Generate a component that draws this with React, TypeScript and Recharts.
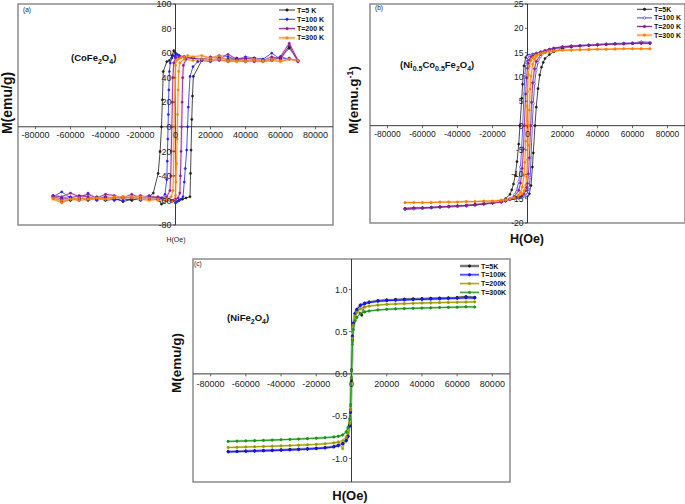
import React from "react";
import { LineChart, Line, XAxis, YAxis, ReferenceLine, ReferenceArea } from "recharts";

type Pt = [number, number];

const H_DOMAIN: [number, number] = [-90000, 90000];
const H_TICKS = [-80000, -60000, -40000, -20000, 0, 20000, 40000, 60000, 80000];
const CO_TICKS = [-80, -60, -40, -20, 0, 20, 40, 60, 80, 100];
const NCO_TICKS = [-20, -15, -10, -5, 0, 5, 10, 15, 20, 25];
const NI_TICKS = [-1, -0.5, 0, 0.5, 1];

// (a) CoFe2O4 — each loop: descending branch (+70 kOe -> -70 kOe), then ascending branch
const CO_5K: Pt[] = [
  [70000, 54], [65000, 65], [60000, 57], [55000, 54], [50000, 55], [45000, 56], [40000, 55], [35000, 56], [30000, 55], [25000, 56], [20000, 54], [15000, 55], [10000, 56], [5000, 57], [2000, 58], [0, 60], [-1000, 62], [-2000, 58], [-3500, 54], [-5000, 53], [-7000, 45], [-7500, 22], [-8000, 0], [-8800, -20], [-9900, -38], [-12700, -54], [-15000, -57], [-20000, -58], [-25000, -59], [-30000, -61], [-35000, -58], [-40000, -59], [-45000, -57], [-50000, -59], [-55000, -58], [-60000, -59], [-65000, -61], [-70000, -58],
  [-70000, -57], [-65000, -59], [-60000, -60], [-55000, -58], [-50000, -60], [-45000, -58], [-40000, -60], [-35000, -59], [-30000, -58], [-25000, -60], [-20000, -58], [-15000, -59], [-10000, -59], [-8000, -63], [-5000, -60], [-2000, -60], [0, -61], [2000, -60], [4000, -59], [6000, -58], [8300, -57], [8600, -38], [8900, -19], [9300, 6], [9700, 25], [10200, 41], [15000, 54], [20000, 55], [25000, 55], [30000, 54], [35000, 55], [40000, 54], [45000, 55], [50000, 54], [55000, 55], [60000, 56], [65000, 64], [70000, 54],
];
const CO_100K: Pt[] = [
  [70000, 53], [65000, 56], [60000, 55], [55000, 60], [50000, 55], [45000, 56], [40000, 57], [35000, 55], [30000, 57], [25000, 58], [20000, 56], [15000, 55], [10000, 56], [5000, 57], [2000, 58], [1000, 59], [0, 57], [-1000, 58], [-2000, 56], [-3000, 52], [-3500, 45], [-3800, 30], [-4100, 10], [-4400, -10], [-4700, -28], [-5000, -43], [-6000, -55], [-8000, -58], [-10000, -59], [-15000, -57], [-20000, -59], [-25000, -57], [-30000, -58], [-35000, -60], [-40000, -57], [-45000, -59], [-50000, -54], [-55000, -60], [-60000, -58], [-65000, -53], [-70000, -57],
  [-70000, -56], [-65000, -58], [-60000, -57], [-55000, -59], [-50000, -58], [-45000, -60], [-40000, -58], [-35000, -59], [-30000, -60], [-25000, -58], [-20000, -60], [-15000, -58], [-10000, -59], [-5000, -60], [-2000, -61], [-1000, -60], [0, -62], [1000, -61], [2000, -60], [3000, -59], [4300, -57], [5000, -45], [5600, -34], [6400, -19], [6900, 0], [7300, 16], [8300, 41], [10000, 49], [12700, 53], [15000, 54], [20000, 53], [25000, 55], [30000, 53], [35000, 54], [40000, 53], [45000, 54], [50000, 53], [55000, 54], [60000, 57], [65000, 55], [70000, 54],
];
const CO_200K: Pt[] = [
  [70000, 54], [65000, 68], [60000, 57], [55000, 55], [50000, 54], [45000, 55], [40000, 56], [35000, 55], [30000, 59], [25000, 56], [20000, 57], [15000, 55], [10000, 56], [5000, 57], [2000, 57], [0, 56], [-1000, 52], [-1500, 40], [-1800, 20], [-2100, 0], [-2400, -20], [-2700, -40], [-3200, -52], [-5000, -57], [-10000, -58], [-15000, -56], [-20000, -58], [-25000, -55], [-30000, -58], [-35000, -56], [-40000, -55], [-45000, -58], [-50000, -55], [-55000, -57], [-60000, -54], [-65000, -57], [-70000, -56],
  [-70000, -57], [-65000, -59], [-60000, -58], [-55000, -56], [-50000, -57], [-45000, -59], [-40000, -57], [-35000, -58], [-30000, -57], [-25000, -58], [-20000, -56], [-15000, -58], [-10000, -57], [-5000, -59], [-2000, -60], [0, -59], [1500, -58], [2500, -54], [2800, -40], [3200, -20], [3500, 0], [3800, 20], [4100, 40], [4500, 50], [6000, 55], [10000, 56], [15000, 54], [20000, 55], [25000, 54], [30000, 54], [35000, 55], [40000, 54], [45000, 53], [50000, 54], [55000, 57], [60000, 55], [65000, 66], [70000, 53],
];
const CO_300K: Pt[] = [
  [70000, 54], [65000, 55], [60000, 54], [55000, 55], [50000, 54], [45000, 55], [40000, 54], [35000, 53], [30000, 54], [25000, 58], [20000, 56], [15000, 58], [10000, 57], [7000, 58], [5000, 57], [3000, 56], [1500, 55], [500, 54], [0, 50], [-300, 40], [-600, 20], [-800, 0], [-1000, -20], [-1200, -40], [-1500, -52], [-2500, -57], [-5000, -59], [-10000, -60], [-15000, -58], [-20000, -57], [-25000, -58], [-30000, -57], [-35000, -58], [-40000, -59], [-45000, -58], [-50000, -59], [-55000, -60], [-60000, -59], [-65000, -62], [-70000, -59],
  [-70000, -58], [-65000, -60], [-60000, -59], [-55000, -58], [-50000, -59], [-45000, -58], [-40000, -59], [-35000, -57], [-30000, -58], [-25000, -57], [-20000, -59], [-15000, -60], [-10000, -59], [-5000, -60], [-2000, -61], [-500, -60], [0, -56], [300, -45], [600, -30], [900, -10], [1200, 10], [1500, 30], [1800, 45], [2500, 52], [5000, 55], [10000, 54], [15000, 55], [20000, 54], [25000, 55], [30000, 53], [35000, 54], [40000, 53], [45000, 54], [50000, 53], [55000, 54], [60000, 53], [65000, 55], [70000, 54],
];

// (b) Ni0.5Co0.5Fe2O4
const NCO_5K: Pt[] = [
  [70000, 17.0], [65000, 17.0], [60000, 16.9], [55000, 16.9], [50000, 16.8], [45000, 16.7], [40000, 16.6], [35000, 16.5], [30000, 16.4], [25000, 16.2], [20000, 16.0], [15000, 15.7], [12500, 15.5], [10000, 15.3], [7500, 15.1], [5000, 14.9], [3000, 14.7], [1000, 14.5], [0, 14.4], [-1000, 14.0], [-2000, 12.3], [-2800, 8.5], [-3300, 5.6], [-4300, 0], [-5000, -3.8], [-6000, -7.4], [-7000, -10.2], [-8000, -12.0], [-9000, -13.2], [-10000, -14.1], [-12500, -15.0], [-15000, -15.4], [-20000, -15.8], [-25000, -16.0], [-30000, -16.2], [-35000, -16.4], [-40000, -16.5], [-45000, -16.6], [-50000, -16.7], [-55000, -16.8], [-60000, -16.9], [-65000, -17.0], [-70000, -17.1],
  [-70000, -17.1], [-65000, -17.0], [-60000, -16.9], [-55000, -16.8], [-50000, -16.7], [-45000, -16.6], [-40000, -16.5], [-35000, -16.4], [-30000, -16.2], [-25000, -16.0], [-20000, -15.8], [-15000, -15.5], [-12500, -15.3], [-10000, -15.1], [-7500, -15.0], [-5000, -14.9], [-3000, -14.7], [-1000, -14.5], [0, -14.4], [1000, -14.0], [2000, -12.3], [2800, -8.5], [3300, -5.6], [4300, 0], [5000, 3.8], [6000, 7.6], [7000, 10.4], [8000, 12.0], [9000, 13.0], [10000, 13.8], [12500, 14.6], [15000, 15.2], [20000, 15.9], [25000, 16.2], [30000, 16.4], [35000, 16.5], [40000, 16.6], [45000, 16.7], [50000, 16.8], [55000, 16.9], [60000, 16.9], [65000, 17.0], [70000, 17.0],
];
const NCO_100K: Pt[] = [
  [70000, 17.1], [65000, 17.2], [60000, 17.0], [55000, 16.9], [50000, 16.9], [45000, 16.8], [40000, 16.7], [35000, 16.6], [30000, 16.5], [25000, 16.4], [20000, 16.2], [15000, 15.9], [12500, 15.7], [10000, 15.5], [7500, 15.2], [5000, 14.9], [3000, 14.6], [2000, 14.5], [1000, 14.4], [500, 14.3], [0, 14.1], [-500, 13.6], [-1000, 12.6], [-1500, 10.5], [-2000, 6.5], [-2700, 0], [-3300, -4.5], [-4000, -8.5], [-5000, -11.5], [-6000, -13.0], [-7500, -14.2], [-10000, -15.0], [-12500, -15.4], [-15000, -15.6], [-20000, -15.9], [-25000, -16.1], [-30000, -16.3], [-35000, -16.5], [-40000, -16.6], [-45000, -16.7], [-50000, -16.8], [-55000, -16.9], [-60000, -17.0], [-65000, -17.1], [-70000, -17.2],
  [-70000, -17.2], [-65000, -17.1], [-60000, -17.0], [-55000, -16.9], [-50000, -16.8], [-45000, -16.7], [-40000, -16.6], [-35000, -16.5], [-30000, -16.3], [-25000, -16.1], [-20000, -15.9], [-15000, -15.6], [-12500, -15.4], [-10000, -15.2], [-7500, -15.0], [-5000, -14.8], [-3000, -14.6], [-2000, -14.5], [-1000, -14.4], [-500, -14.3], [0, -14.1], [500, -13.6], [1000, -12.7], [1500, -10.6], [2000, -6.6], [2700, 0], [3300, 4.6], [4000, 8.6], [5000, 11.4], [6000, 13.0], [7500, 14.2], [10000, 15.0], [12500, 15.5], [15000, 15.8], [20000, 16.2], [25000, 16.4], [30000, 16.5], [35000, 16.6], [40000, 16.7], [45000, 16.8], [50000, 16.9], [55000, 16.9], [60000, 17.0], [65000, 17.2], [70000, 17.1],
];
const NCO_200K: Pt[] = [
  [70000, 16.9], [65000, 17.0], [60000, 16.9], [55000, 16.8], [50000, 16.8], [45000, 16.7], [40000, 16.6], [35000, 16.5], [30000, 16.4], [25000, 16.3], [20000, 16.2], [15000, 15.9], [12500, 15.7], [10000, 15.4], [7500, 15.1], [5000, 14.8], [3000, 14.4], [2000, 14.1], [1000, 13.5], [500, 12.8], [0, 11.8], [-500, 9.8], [-1000, 6.5], [-1800, 0], [-2300, -4.8], [-3000, -8.8], [-4000, -11.8], [-5000, -13.3], [-7500, -14.6], [-10000, -15.1], [-12500, -15.5], [-15000, -15.7], [-20000, -15.9], [-25000, -16.1], [-30000, -16.3], [-35000, -16.4], [-40000, -16.5], [-45000, -16.6], [-50000, -16.7], [-55000, -16.8], [-60000, -16.9], [-65000, -16.9], [-70000, -17.0],
  [-70000, -17.0], [-65000, -16.9], [-60000, -16.9], [-55000, -16.8], [-50000, -16.7], [-45000, -16.6], [-40000, -16.5], [-35000, -16.4], [-30000, -16.3], [-25000, -16.1], [-20000, -15.9], [-15000, -15.7], [-12500, -15.5], [-10000, -15.2], [-7500, -14.9], [-5000, -14.6], [-3000, -14.3], [-2000, -14.0], [-1000, -13.4], [-500, -12.7], [0, -11.9], [500, -9.9], [1000, -6.6], [1800, 0], [2300, 4.8], [3000, 8.8], [4000, 11.7], [5000, 13.2], [7500, 14.6], [10000, 15.2], [12500, 15.6], [15000, 15.9], [20000, 16.2], [25000, 16.3], [30000, 16.4], [35000, 16.5], [40000, 16.6], [45000, 16.7], [50000, 16.8], [55000, 16.8], [60000, 16.9], [65000, 16.9], [70000, 16.9],
];
const NCO_300K: Pt[] = [
  [70000, 15.8], [65000, 15.8], [60000, 15.8], [55000, 15.8], [50000, 15.7], [45000, 15.7], [40000, 15.7], [35000, 15.6], [30000, 15.6], [25000, 15.5], [20000, 15.5], [15000, 15.3], [12500, 15.2], [10000, 15.0], [7500, 14.8], [5000, 14.5], [3000, 14.0], [2000, 13.4], [1000, 12.2], [500, 10.5], [0, 7.0], [-300, 4.0], [-700, 0], [-1000, -3.2], [-1500, -7.5], [-2000, -10.2], [-3000, -12.6], [-4000, -13.7], [-5000, -14.2], [-7500, -14.8], [-10000, -15.1], [-12500, -15.3], [-15000, -15.4], [-20000, -15.5], [-25000, -15.5], [-30000, -15.6], [-35000, -15.6], [-40000, -15.7], [-45000, -15.7], [-50000, -15.7], [-55000, -15.8], [-60000, -15.8], [-65000, -15.8], [-70000, -15.8],
  [-70000, -15.8], [-65000, -15.8], [-60000, -15.8], [-55000, -15.8], [-50000, -15.7], [-45000, -15.7], [-40000, -15.7], [-35000, -15.6], [-30000, -15.6], [-25000, -15.5], [-20000, -15.5], [-15000, -15.3], [-12500, -15.2], [-10000, -15.0], [-7500, -14.8], [-5000, -14.5], [-3000, -14.0], [-2000, -13.4], [-1000, -12.2], [-500, -10.5], [0, -7.0], [300, -4.0], [700, 0], [1000, 3.2], [1500, 7.5], [2000, 10.2], [3000, 12.6], [4000, 13.7], [5000, 14.2], [7500, 14.8], [10000, 15.1], [12500, 15.3], [15000, 15.4], [20000, 15.5], [25000, 15.6], [30000, 15.6], [35000, 15.7], [40000, 15.7], [45000, 15.7], [50000, 15.8], [55000, 15.8], [60000, 15.8], [65000, 15.8], [70000, 15.8],
];

// (c) NiFe2O4
const NI_5K: Pt[] = [
  [70000, 0.905], [65000, 0.915], [60000, 0.905], [55000, 0.9], [50000, 0.898], [45000, 0.895], [40000, 0.892], [35000, 0.889], [30000, 0.885], [25000, 0.881], [20000, 0.876], [15000, 0.868], [10000, 0.852], [7500, 0.838], [5000, 0.818], [3000, 0.765], [2000, 0.72], [1000, 0.6], [500, 0.45], [0, 0.05], [-500, -0.42], [-1000, -0.6], [-2000, -0.74], [-3000, -0.79], [-5000, -0.825], [-7500, -0.845], [-10000, -0.86], [-15000, -0.872], [-20000, -0.88], [-25000, -0.886], [-30000, -0.891], [-35000, -0.895], [-40000, -0.899], [-45000, -0.903], [-50000, -0.907], [-55000, -0.91], [-60000, -0.913], [-65000, -0.917], [-70000, -0.92],
  [-70000, -0.918], [-65000, -0.916], [-60000, -0.912], [-55000, -0.909], [-50000, -0.906], [-45000, -0.902], [-40000, -0.898], [-35000, -0.894], [-30000, -0.89], [-25000, -0.885], [-20000, -0.879], [-15000, -0.871], [-10000, -0.858], [-7500, -0.843], [-5000, -0.822], [-3000, -0.785], [-2000, -0.735], [-1000, -0.62], [-500, -0.46], [0, -0.08], [500, 0.4], [1000, 0.58], [2000, 0.71], [3000, 0.76], [5800, 0.695], [7500, 0.836], [10000, 0.85], [15000, 0.866], [20000, 0.875], [25000, 0.88], [30000, 0.884], [35000, 0.888], [40000, 0.891], [45000, 0.894], [50000, 0.897], [55000, 0.9], [60000, 0.903], [65000, 0.912], [70000, 0.906],
];
const NI_100K: Pt[] = [
  [70000, 0.898], [65000, 0.902], [60000, 0.895], [55000, 0.892], [50000, 0.889], [45000, 0.886], [40000, 0.883], [35000, 0.88], [30000, 0.876], [25000, 0.872], [20000, 0.867], [15000, 0.86], [10000, 0.845], [7500, 0.832], [5000, 0.81], [3000, 0.76], [2000, 0.715], [1000, 0.6], [500, 0.44], [0, 0.04], [-500, -0.43], [-1000, -0.61], [-2000, -0.745], [-3000, -0.795], [-5000, -0.83], [-7500, -0.852], [-10000, -0.866], [-15000, -0.878], [-20000, -0.886], [-25000, -0.892], [-30000, -0.897], [-35000, -0.901], [-40000, -0.905], [-45000, -0.909], [-50000, -0.912], [-55000, -0.915], [-60000, -0.918], [-65000, -0.921], [-70000, -0.924],
  [-70000, -0.923], [-65000, -0.92], [-60000, -0.917], [-55000, -0.914], [-50000, -0.911], [-45000, -0.908], [-40000, -0.904], [-35000, -0.9], [-30000, -0.896], [-25000, -0.891], [-20000, -0.885], [-15000, -0.877], [-10000, -0.864], [-7500, -0.85], [-5000, -0.828], [-3000, -0.79], [-2000, -0.74], [-1000, -0.62], [-500, -0.45], [0, -0.06], [500, 0.41], [1000, 0.59], [2000, 0.71], [3000, 0.758], [5000, 0.808], [7500, 0.83], [10000, 0.844], [15000, 0.859], [20000, 0.866], [25000, 0.871], [30000, 0.875], [35000, 0.879], [40000, 0.882], [45000, 0.885], [50000, 0.888], [55000, 0.891], [60000, 0.894], [65000, 0.9], [70000, 0.897],
];
const NI_200K: Pt[] = [
  [70000, 0.852], [65000, 0.851], [60000, 0.848], [55000, 0.846], [50000, 0.844], [45000, 0.842], [40000, 0.839], [35000, 0.836], [30000, 0.832], [25000, 0.828], [20000, 0.823], [15000, 0.815], [10000, 0.803], [7500, 0.792], [5000, 0.772], [3000, 0.728], [2000, 0.688], [1000, 0.58], [500, 0.42], [0, 0.04], [-500, -0.41], [-1000, -0.58], [-2000, -0.7], [-3000, -0.75], [-5000, -0.79], [-7500, -0.808], [-10000, -0.818], [-15000, -0.828], [-20000, -0.835], [-25000, -0.84], [-30000, -0.845], [-35000, -0.849], [-40000, -0.853], [-45000, -0.857], [-50000, -0.86], [-55000, -0.863], [-60000, -0.866], [-65000, -0.869], [-70000, -0.872],
  [-70000, -0.871], [-65000, -0.868], [-60000, -0.865], [-55000, -0.862], [-50000, -0.859], [-45000, -0.856], [-40000, -0.852], [-35000, -0.848], [-30000, -0.844], [-25000, -0.839], [-20000, -0.834], [-15000, -0.827], [-10000, -0.816], [-7500, -0.806], [-5000, -0.885], [-3000, -0.745], [-2000, -0.7], [-1000, -0.59], [-500, -0.43], [0, -0.05], [500, 0.39], [1000, 0.57], [2000, 0.685], [3000, 0.726], [5000, 0.77], [7500, 0.79], [10000, 0.802], [15000, 0.814], [20000, 0.822], [25000, 0.827], [30000, 0.831], [35000, 0.835], [40000, 0.838], [45000, 0.841], [50000, 0.843], [55000, 0.845], [60000, 0.847], [65000, 0.85], [70000, 0.851],
];
const NI_300K: Pt[] = [
  [70000, 0.792], [65000, 0.795], [60000, 0.79], [55000, 0.788], [50000, 0.786], [45000, 0.783], [40000, 0.78], [35000, 0.777], [30000, 0.774], [25000, 0.77], [20000, 0.765], [15000, 0.757], [10000, 0.745], [7500, 0.735], [5000, 0.715], [3000, 0.67], [2000, 0.63], [1000, 0.53], [500, 0.38], [0, 0.03], [-500, -0.36], [-1000, -0.53], [-2000, -0.64], [-3000, -0.69], [-5000, -0.725], [-7500, -0.74], [-10000, -0.748], [-15000, -0.756], [-20000, -0.762], [-25000, -0.767], [-30000, -0.772], [-35000, -0.776], [-40000, -0.78], [-45000, -0.784], [-50000, -0.788], [-55000, -0.791], [-60000, -0.794], [-65000, -0.797], [-70000, -0.8],
  [-70000, -0.799], [-65000, -0.796], [-60000, -0.793], [-55000, -0.79], [-50000, -0.787], [-45000, -0.783], [-40000, -0.779], [-35000, -0.775], [-30000, -0.771], [-25000, -0.766], [-20000, -0.761], [-15000, -0.755], [-10000, -0.746], [-7500, -0.738], [-5000, -0.722], [-3000, -0.685], [-2000, -0.635], [-1000, -0.54], [-500, -0.38], [0, -0.04], [500, 0.35], [1000, 0.52], [2000, 0.625], [3000, 0.668], [5000, 0.713], [7500, 0.733], [10000, 0.744], [15000, 0.756], [20000, 0.764], [25000, 0.769], [30000, 0.773], [35000, 0.776], [40000, 0.779], [45000, 0.782], [50000, 0.785], [55000, 0.787], [60000, 0.789], [65000, 0.793], [70000, 0.791],
];

interface Series { name: string; color: string; halo?: string; open?: boolean; pts: Pt[]; }

const CO_SERIES: Series[] = [
  { name: "T=5 K", color: "#1a1a1a", pts: CO_5K },
  { name: "T=100 K", color: "#1f1fff", pts: CO_100K },
  { name: "T=200 K", color: "#8a1a8a", halo: "#e2bce2", pts: CO_200K },
  { name: "T=300 K", color: "#ff7f0e", halo: "#ffd3a3", pts: CO_300K },
];
const NCO_SERIES: Series[] = [
  { name: "T=5K", color: "#1a1a1a", pts: NCO_5K },
  { name: "T=100 K", color: "#2a2aff", open: true, pts: NCO_100K },
  { name: "T=200 K", color: "#8b1a8b", halo: "#e0c4e0", pts: NCO_200K },
  { name: "T=300 K", color: "#ff7f00", halo: "#ffd2a6", pts: NCO_300K },
];
const NI_SERIES: Series[] = [
  { name: "T=5K", color: "#1a1a1a", halo: "#a8a8a8", pts: NI_5K },
  { name: "T=100K", color: "#1515ff", halo: "#a8a8ff", pts: NI_100K },
  { name: "T=200K", color: "#9a9a00", halo: "#d8d89a", pts: NI_200K },
  { name: "T=300K", color: "#1a951a", halo: "#a8daa8", pts: NI_300K },
];

const FONT = "'Liberation Sans', Arial, sans-serif";

interface Margin { top: number; right: number; bottom: number; left: number; }
interface PanelProps {
  left: number; top: number; width: number; height: number; margin: Margin;
  yDomain: [number, number]; yTicks: number[]; yFmt?: (v: number) => string;
  series: Series[]; tickSize: number; xLabelDy: number;
}

// plot box = chart minus margin minus the 1px axis bands
function Panel(p: PanelProps) {
  const plotLeft = p.margin.left + 1;
  const plotW = p.width - p.margin.left - p.margin.right - 1;
  const plotH = p.height - p.margin.top - p.margin.bottom - 1;
  const zeroY = p.margin.top + (plotH * p.yDomain[1]) / (p.yDomain[1] - p.yDomain[0]);
  const zeroX = plotLeft + (plotW * -H_DOMAIN[0]) / (H_DOMAIN[1] - H_DOMAIN[0]);
  const fmt = p.yFmt ?? ((v: number) => String(v));
  return (
    <div style={{ position: "absolute", left: p.left, top: p.top }}>
      <LineChart width={p.width} height={p.height} margin={p.margin} style={{ fontFamily: FONT }}>
        <XAxis type="number" dataKey="h" domain={H_DOMAIN} ticks={H_TICKS} interval={0} allowDataOverflow
          height={1} axisLine={false} tickLine={false}
          tick={(t: any) => (
            <g>
              <line x1={t.x} x2={t.x} y1={zeroY} y2={zeroY + 2.5} stroke="#444" strokeWidth={0.8} />
              <text x={t.x} y={zeroY + p.xLabelDy} textAnchor="middle" fontSize={p.tickSize} fill="#222">{t.payload.value}</text>
            </g>
          )} />
        <YAxis type="number" domain={p.yDomain} ticks={p.yTicks} interval={0} allowDataOverflow
          width={1} axisLine={false} tickLine={false}
          tick={(t: any) => (
            <g>
              <line x1={zeroX - 2.5} x2={zeroX} y1={t.y} y2={t.y} stroke="#444" strokeWidth={0.8} />
              <text x={zeroX - 4} y={t.y + p.tickSize * 0.36} textAnchor="end" fontSize={p.tickSize} fill="#222">{fmt(t.payload.value)}</text>
            </g>
          )} />
        <ReferenceArea x1={H_DOMAIN[0]} x2={H_DOMAIN[1]} y1={p.yDomain[0]} y2={p.yDomain[1]}
          fill="none" stroke="#8c8c8c" strokeWidth={1.5} fillOpacity={0} ifOverflow="visible" />
        <ReferenceLine y={0} stroke="#3a3a3a" strokeWidth={1} />
        <ReferenceLine x={0} stroke="#3a3a3a" strokeWidth={1} />
        {p.series.flatMap((s) => {
          const rows = s.pts.map(([h, m]) => ({ h, m }));
          const out = [];
          if (s.halo) {
            out.push(
              <Line key={s.name + "-halo"} data={rows} dataKey="m" type="linear" stroke={s.halo} strokeWidth={2.6}
                strokeOpacity={0.6} dot={false} activeDot={false} legendType="none" isAnimationActive={false} />
            );
          }
          out.push(
            <Line key={s.name} data={rows} dataKey="m" type="linear" stroke={s.color} strokeWidth={0.8}
              dot={{ r: 1.1, fill: s.open ? "#fff" : s.color, stroke: s.color, strokeWidth: 0.5 }}
              activeDot={false} isAnimationActive={false} />
          );
          return out;
        })}
      </LineChart>
    </div>
  );
}

function Legend({ series, x, y, step, len }: { series: Series[]; x: number; y: number; step: number; len: number }) {
  return (
    <g>
      {series.map((s, i) => {
        const yy = y + i * step;
        return (
          <g key={s.name}>
            {s.halo && <line x1={x} x2={x + len} y1={yy} y2={yy} stroke={s.halo} strokeWidth={3} strokeOpacity={0.7} />}
            <line x1={x} x2={x + len} y1={yy} y2={yy} stroke={s.color} strokeWidth={0.9} />
            <circle cx={x + len / 2} cy={yy} r={1.2} fill={s.open ? "#fff" : s.color} stroke={s.color} strokeWidth={0.6} />
            <text x={x + len + 2} y={yy + 2.5} fontSize={7} fontWeight="bold" fill="#111">{s.name}</text>
          </g>
        );
      })}
    </g>
  );
}

export default function App() {
  return (
    <div style={{ position: "absolute", left: 0, top: 0, width: 685, height: 504, background: "#fff", overflow: "hidden", fontFamily: FONT }}>
      <Panel left={0} top={0} width={345} height={250} margin={{ top: 4, right: 12, bottom: 24, left: 17 }}
        yDomain={[-80, 100]} yTicks={CO_TICKS} series={CO_SERIES} tickSize={9} xLabelDy={11} />
      <Panel left={345} top={0} width={340} height={250} margin={{ top: 4, right: 0, bottom: 26, left: 24 }}
        yDomain={[-20, 25]} yTicks={NCO_TICKS} series={NCO_SERIES} tickSize={8.5} xLabelDy={11} />
      <Panel left={170} top={255} width={345} height={249} margin={{ top: 4, right: 5, bottom: 21, left: 22 }}
        yDomain={[-1.28, 1.36]} yTicks={NI_TICKS} yFmt={(v) => v.toFixed(1)} series={NI_SERIES} tickSize={9} xLabelDy={13} />

      <svg width={685} height={504} style={{ position: "absolute", left: 0, top: 0, pointerEvents: "none", fontFamily: FONT }}>
        <text x={23} y={12} fontSize={6.5} fill="#222">(a)</text>
        <text x={375} y={10} fontSize={6.5} fill="#222">(b)</text>
        <text x={194} y={266} fontSize={6.5} fill="#222">(c)</text>

        <text x={71} y={61} fontSize={9.5} fontWeight="bold" fill="#111">
          (CoFe<tspan dy={2.5} fontSize={7}>2</tspan><tspan dy={-2.5}>O</tspan><tspan dy={2.5} fontSize={7}>4</tspan><tspan dy={-2.5}>)</tspan>
        </text>
        <text x={400} y={68} fontSize={9.5} fontWeight="bold" fill="#111">
          (Ni<tspan dy={2.5} fontSize={7}>0.5</tspan><tspan dy={-2.5}>Co</tspan><tspan dy={2.5} fontSize={7}>0.5</tspan><tspan dy={-2.5}>Fe</tspan><tspan dy={2.5} fontSize={7}>2</tspan><tspan dy={-2.5}>O</tspan><tspan dy={2.5} fontSize={7}>4</tspan><tspan dy={-2.5}>)</tspan>
        </text>
        <text x={227} y={321} fontSize={9.5} fontWeight="bold" fill="#111">
          (NiFe<tspan dy={2.5} fontSize={7}>2</tspan><tspan dy={-2.5}>O</tspan><tspan dy={2.5} fontSize={7}>4</tspan><tspan dy={-2.5}>)</tspan>
        </text>

        <text transform="translate(12,103) rotate(-90)" textAnchor="middle" fontSize={14} fontWeight="bold" fill="#111">M(emu/g)</text>
        <text transform="translate(358,100) rotate(-90)" textAnchor="middle" fontSize={13.5} fontWeight="bold" fill="#111">
          M(emu.g<tspan dy={-5} fontSize={9}>-1</tspan><tspan dy={5}>)</tspan>
        </text>
        <text transform="translate(181,363) rotate(-90)" textAnchor="middle" fontSize={13.5} fontWeight="bold" fill="#111">M(emu/g)</text>

        <text x={176} y={242} textAnchor="middle" fontSize={7} fill="#222">H(Oe)</text>
        <text x={527} y={243} textAnchor="middle" fontSize={12.5} fontWeight="bold" fill="#111">H(Oe)</text>
        <text x={350} y={500} textAnchor="middle" fontSize={13} fontWeight="bold" fill="#111">H(Oe)</text>

        <Legend series={CO_SERIES} x={279} y={10} step={9.3} len={16} />
        <Legend series={NCO_SERIES} x={637} y={9.3} step={8.6} len={15} />
        <Legend series={NI_SERIES} x={460} y={266} step={8.8} len={19} />
      </svg>
    </div>
  );
}
